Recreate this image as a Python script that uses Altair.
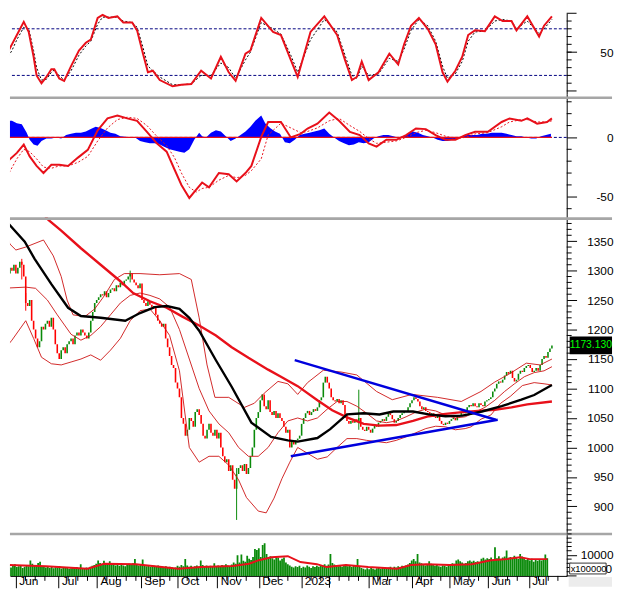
import json
import altair as alt
import pandas as pd

# ---------------- data ----------------
close = [1290, 1300, 1285, 1295, 1305, 1300, 1310, 1295, 1305, 1315,
         1310, 1290, 1245, 1240, 1250, 1215, 1200, 1185, 1170, 1180,
         1205, 1200, 1210, 1215, 1205, 1220, 1200, 1175, 1160, 1150,
         1165, 1170, 1160, 1175, 1180, 1185, 1175, 1190, 1195, 1190,
         1200, 1195, 1190, 1185, 1195, 1215, 1230, 1245, 1250, 1255,
         1260, 1258, 1265, 1255, 1262, 1268, 1270, 1265, 1275, 1272,
         1280, 1275, 1283, 1285, 1290, 1295, 1285, 1280, 1275, 1270,
         1278, 1250, 1245, 1240, 1248, 1242, 1238, 1240, 1225, 1215,
         1210, 1205, 1210, 1185, 1170, 1155, 1140, 1135, 1110, 1100,
         1085, 1050, 1040, 1020, 1030, 1050, 1045, 1035, 1060, 1065,
         1055, 1040, 1020, 1015, 1030, 1040, 1025, 1020, 1030, 1015,
         1025, 1000, 985, 975, 980, 960, 970, 945, 930, 955,
         965, 970, 960, 972, 955, 965, 985, 1000, 1030, 1050,
         1060, 1080, 1090, 1070, 1065, 1080, 1060, 1055, 1062, 1050,
         1058, 1050, 1045, 1035, 1025, 1030, 1000, 1010, 1005, 1012,
         1015, 1020, 1040, 1050, 1058, 1062, 1055, 1060, 1065, 1062,
         1068, 1080, 1085, 1110, 1120, 1110, 1100, 1085, 1080, 1078,
         1082, 1075, 1080, 1072, 1055, 1045, 1040, 1045, 1042, 1048,
         1045, 1050, 1035, 1030, 1028, 1035, 1030, 1025, 1032, 1038,
         1035, 1042, 1045, 1048, 1045, 1052, 1058, 1055, 1048, 1042,
         1045, 1050, 1055, 1058, 1062, 1060, 1068, 1075, 1080, 1085,
         1082, 1078, 1070, 1065, 1068, 1062, 1060, 1055, 1058, 1052,
         1050, 1055, 1045, 1040, 1038, 1042, 1040, 1045, 1048, 1050,
         1046, 1052, 1055, 1060, 1058, 1062, 1068, 1072, 1070, 1075,
         1070, 1068, 1075, 1072, 1070, 1078, 1080, 1082, 1085, 1095,
         1100, 1108, 1112, 1110, 1115, 1122, 1128, 1125, 1130, 1118,
         1112, 1115, 1125, 1130, 1128, 1135, 1138, 1140, 1135, 1128,
         1130, 1135, 1130, 1140, 1150, 1155, 1152, 1162, 1168, 1173.13]
open_first = 1285

wick_day = [10, 12, 65, 119, 181]
wick_lo = [1285, 1232, 1280, 877, 1030]
wick_hi = [1320, 1262, 1300, 965, 1098]

volume = [4500, 5200, 4000, 4800, 5500, 4200, 4600, 5000, 3800, 4400,
          5200, 4600, 7400, 5800, 4800, 5000, 6200, 6800, 4700, 4300,
          4000, 4500, 3800, 4200, 3600, 4100, 3900, 4700, 3500, 4000,
          3800, 4300, 3400, 3700, 3900, 3300, 4200, 3600, 5600, 3800,
          3500, 4000, 3700, 4400, 4800, 5200, 5800, 7400, 6200, 5600,
          7200, 5400, 6000, 7000, 5200, 5800, 5000, 5600, 4800, 5200,
          5000, 4600, 5400, 5800, 5200, 6000, 8000, 5400, 5000, 5600,
          7800, 5000, 4600, 5200, 4400, 5000, 4800, 4200, 5000, 4600,
          4400, 4000, 4600, 3800, 4400, 4200, 3600, 4000, 4800, 4400,
          5200, 4600, 8000, 5000, 4400, 4800, 4200, 4600, 5000, 4400,
          7400, 5200, 4600, 5000, 4400, 4800, 4200, 6000, 4600, 5000,
          4400, 5200, 4800, 5600, 5000, 4600, 5400, 6400, 5800, 9800,
          6400, 10200, 7200, 6800, 9600, 8200, 7600, 9000, 12800, 12400,
          13200, 9000, 14700, 15600, 10400, 8800, 9400, 8400, 7800, 9000,
          8600, 7400, 8200, 8800, 6400, 5600, 5000, 4400, 4000, 4600,
          4200, 4800, 3800, 4400, 4000, 5000, 4400, 3800, 4600, 4200,
          4800, 4400, 5200, 5000, 5600, 4800, 5400, 10400, 6200, 5400,
          5000, 4600, 5200, 4400, 4800, 5400, 4600, 5000, 4200, 4800,
          5200, 8000, 4600, 3800, 3400, 3000, 3600, 3200, 3800, 3400,
          3000, 3600, 4000, 3400, 3800, 4200, 3600, 4000, 4400, 3800,
          4400, 4000, 4600, 4200, 4800, 4400, 5000, 5400, 6200, 7400,
          8000, 7000, 10400, 6400, 6000, 5400, 5000, 5600, 7000, 5800,
          5200, 4800, 5400, 4600, 4400, 5000, 4800, 4400, 5200, 5600,
          6000, 5800, 7400, 7800, 7000, 6400, 5800, 6200, 7000, 7400,
          6800, 7200, 6600, 7000, 6400, 8200, 8600, 7800, 8400, 8000,
          8800, 7600, 13600, 8400, 9400, 8000, 8800, 9200, 12100, 8600,
          9000, 8400, 9600, 8800, 8000, 10400, 9200, 8400, 7600, 8000,
          7400, 8200, 6800, 7600, 7200, 8000, 7400, 7800, 10200, 8400]

vma_day = [0, 20, 41.5, 50, 66.5, 88.5, 100, 116.5, 125, 130, 136.5, 145, 151.5, 160,
           165, 175, 186.5, 201.5, 208.5, 216.5, 228.5, 240, 250, 258.5, 265, 270, 279]
vma_val = [5200, 4600, 3400, 5800, 5600, 3400, 4200, 4700, 5800, 7500, 8900, 9400, 6600, 5600,
           4200, 5200, 4200, 3400, 5200, 5600, 5200, 5600, 7500, 8100, 8900, 8000, 8000]

ma100_day = [20, 23.5, 30, 40, 50, 60, 66.5, 75, 83.5, 91.5, 100, 108.5, 116.5, 125, 130, 135,
             141.5, 150, 160, 167.5, 175, 183.5, 191.5, 200, 208.5, 216.5, 225, 233.5, 241.5,
             250, 258.5, 266.5, 279]
ma100_val = [1400, 1386, 1368, 1338, 1310, 1282, 1262, 1248, 1237, 1222, 1207, 1190, 1170, 1152,
             1142, 1132, 1120, 1104, 1080, 1063, 1051, 1040, 1037, 1038, 1045, 1053, 1057, 1060,
             1062, 1064, 1068, 1073, 1078]

ma50_day = [0, 1.5, 11.5, 16.5, 25, 33.5, 40, 50, 62.5, 70, 77.5, 83.5, 90, 95, 100, 108.5,
            116.5, 126.5, 136.5, 145, 150, 160, 166.5, 175, 183.5, 191.5, 198.5, 208.5, 216.5,
            225, 233.5, 243.5, 253.5, 263.5, 270, 279]
ma50_val = [1395, 1386, 1349, 1320, 1277, 1237, 1223, 1220, 1215, 1228, 1238, 1240, 1235, 1220,
            1198, 1148, 1103, 1042, 1018, 1012, 1010, 1016, 1031, 1056, 1058, 1056, 1061, 1061,
            1056, 1053, 1054, 1061, 1070, 1081, 1089, 1106]

bb_up_day = [0, 4, 7, 12, 21, 26, 30, 33, 36, 42, 47, 52, 57, 62, 70, 80, 90, 96, 100, 104,
             108, 115, 123, 128, 133, 140, 145, 150, 155, 163, 172, 180, 190, 198, 208, 221,
             233, 243, 250, 258, 266, 273, 279]
bb_up_val = [1385, 1345, 1335, 1340, 1352, 1325, 1290, 1250, 1225, 1222, 1235, 1258, 1285, 1295,
             1295, 1293, 1295, 1285, 1220, 1140, 1085, 1085, 1068, 1075, 1092, 1112, 1108, 1090,
             1110, 1131, 1128, 1123, 1095, 1081, 1090, 1085, 1078, 1095, 1111, 1126, 1143, 1140,
             1150]

bb_mid_day = [0, 12, 17, 23, 28, 35, 40, 45, 50, 55, 60, 65, 70, 75, 80, 85, 90, 95, 100, 105,
              110, 115, 120, 125, 130, 135, 140, 145, 150, 155, 160, 165, 170, 175, 180, 185,
              190, 195, 200, 205, 210, 215, 220, 225, 230, 235, 240, 245, 250, 255, 260, 265,
              270, 275, 279]
bb_mid_val = [1270, 1272, 1270, 1250, 1225, 1192, 1182, 1190, 1205, 1225, 1245, 1258, 1262, 1258,
              1252, 1238, 1200, 1150, 1100, 1062, 1040, 1025, 1000, 985, 985, 1000, 1025, 1045,
              1050, 1045, 1050, 1065, 1078, 1078, 1070, 1058, 1045, 1042, 1045, 1052, 1060, 1065,
              1062, 1055, 1050, 1052, 1060, 1068, 1080, 1095, 1108, 1120, 1127, 1130, 1137]

bb_lo_day = [0, 5, 12, 16, 20, 25, 30, 35, 40, 45, 50, 55, 60, 65, 70, 75, 80, 85, 90, 95,
             100, 105, 110, 115, 120, 124, 130, 134, 138, 142, 146, 150, 155, 160, 165, 170,
             175, 180, 185, 190, 195, 200, 205, 210, 215, 220, 225, 230, 235, 238, 243, 248,
             253, 258, 264, 270, 275, 279]
bb_lo_val = [1162, 1182, 1215, 1185, 1153, 1142, 1140, 1145, 1150, 1157, 1148, 1165, 1185, 1215,
             1232, 1235, 1215, 1190, 1130, 1000, 975, 985, 985, 970, 945, 915, 892, 889, 914,
             947, 975, 1000, 990, 980, 984, 1000, 1015, 1015, 1012, 1010, 1008, 1012, 1018,
             1025, 1032, 1036, 1035, 1030, 1032, 1035, 1048, 1055, 1075, 1087, 1105, 1110, 1108,
             1106]

trend_hi_day = [148.5, 250.5]
trend_hi_val = [1148, 1047]
trend_lo_day = [146.5, 251.5]
trend_lo_val = [985, 1047]

stoch_day = [0, 5, 7.5, 11, 13.5, 16, 17.5, 20, 22.5, 25, 26.5, 29, 31.5, 35, 39, 42.5, 45,
             48.5, 51, 54, 58.5, 61.5, 66, 68.5, 71.5, 74, 76.5, 80, 86.5, 91, 96, 101, 106,
             111, 115, 118.5, 123.5, 126, 131.5, 137.5, 141.5, 146.5, 150, 156.5, 163.5, 170,
             174, 177.5, 180, 182.5, 186, 191, 196.5, 201, 204, 207.5, 211.5, 216, 220, 223.5,
             226, 230, 233.5, 236.5, 240, 245, 250, 254, 258.5, 261, 266.5, 272.5, 275, 279]
stoch_k = [36, 60, 72, 89, 76, 44, 20, 10, 18, 28, 28, 16, 13, 32, 52, 62, 66, 94, 98, 94,
           96, 88, 88, 78, 48, 24, 26, 14, 6, 8, 9, 26, 16, 44, 24, 13, 48, 52, 94, 76,
           72, 40, 18, 76, 96, 72, 40, 14, 18, 38, 14, 24, 48, 34, 60, 84, 94, 80, 60, 24,
           12, 26, 44, 72, 78, 77, 96, 90, 90, 78, 96, 70, 84, 96]
stoch_d = [32, 52, 66, 82, 80, 52, 30, 14, 15, 24, 27, 20, 14, 26, 46, 58, 64, 86, 95, 95,
           95, 90, 88, 82, 56, 32, 26, 18, 8, 8, 9, 20, 20, 36, 30, 16, 40, 50, 88, 80,
           73, 46, 24, 66, 92, 76, 46, 20, 16, 32, 20, 22, 42, 38, 54, 78, 92, 84, 64, 32,
           16, 22, 38, 64, 76, 77, 90, 92, 90, 80, 90, 74, 80, 92]

macd_day = [0, 3.5, 7.5, 11, 14, 17.5, 21, 25, 29, 33.5, 38.5, 43.5, 48.5, 53.5, 58.5, 63.5,
            68.5, 73.5, 78.5, 83.5, 87.5, 91, 95, 98.5, 101.5, 105, 110, 115, 119, 123.5,
            126.5, 131.5, 135, 141.5, 146.5, 151.5, 155, 160, 166, 171, 176.5, 181.5, 186, 190,
            195, 200, 205, 210, 215, 220, 225, 230, 235, 240, 246.5, 253.5, 257.5, 263.5,
            266.5, 271.5, 276.5, 279]
macd_val = [-41, -19, -13, -6, -16, -24, -30, -23, -23, -24, -17, -10.5, 6, 16, 18.5, 16, 14,
            4.7, -5, -12, -27, -40, -51, -44, -38, -42, -30, -31, -37, -30, -24, 0.5, 13, 13,
            0, 3, 7.5, 11.6, 21, 14, 4.7, 2, -5, -7.7, -2, -2, 2, 7.5, 7, 2, -2, -2, 2, 4.7,
            4.7, 13, 16, 14, 16, 11.6, 13, 16]
signal_val = [-45, -30, -18, -10, -12, -18, -25, -26, -24, -24, -21, -16, -3, 8, 15, 17, 16,
              10, 1, -7, -17, -30, -42, -46, -43, -42, -36, -32, -34, -32, -28, -18, 2, 12,
              8, 4, 5, 8, 14, 16, 10, 5, -1, -5, -4, -3, 0, 4, 6, 4, 1, -1, 0, 3, 4, 9, 13,
              15, 15, 13, 13, 14]

hist_day = [0, 2.5, 5, 7.5, 10, 12.5, 14, 16, 18, 20, 22.5, 25, 27.5, 30, 32.5, 35, 37.5, 40,
            42.5, 45, 47.5, 50, 52.5, 55, 57.5, 60, 62.5, 65, 67.5, 70, 72.5, 75, 77.5, 80,
            82.5, 85, 87.5, 90, 92.5, 95, 97.5, 100, 101.5, 103.5, 106, 108.5, 111, 113.5,
            116, 118.5, 121, 123.5, 126, 128.5, 131.5, 133.5, 136, 138.5, 141, 143.5, 146,
            148.5, 151, 153.5, 156, 158.5, 161, 163.5, 166, 168.5, 171, 173.5, 176, 178.5,
            181, 183.5, 186, 188.5, 191, 193.5, 196, 198.5, 201, 203.5, 206, 208.5, 211,
            213.5, 216, 218.5, 221, 223.5, 226, 228.5, 231, 233.5, 236, 238.5, 241, 243.5,
            246, 248.5, 251, 253.5, 256, 258.5, 261, 263.5, 266, 268.5, 271, 273.5, 276, 278.5]
hist_val = [9, 14, 14, 12, 11, 4, -2, -6, -7, -3, -1, -1, 0, -1, 2, 3, 4, 4,
            5, 7, 9, 8, 6, 4, 3, 1, 0.5, 0, 0, -3, -4, -5, -5, -6,
            -8, -10, -11, -12, -13, -10, -2, 4, 1, 0, 4, 6, 5, 1,
            -3, -1, 2, 5, 9, 14, 18.5, 12, 8, 5, 3, -4, -5,
            -2, 2, 3, 4, 5, 6, 7.5, 3, 0, -3, -5, -6.5, -6,
            -4, -5, -4, -1, 1, 2, 2, 1, 0, 1, 3, 5, 4,
            2, 1, 0, -2, -3, -3, -2, -1, 1, 2, 2, 2, 3,
            3, 4, 4, 4, 3, 2, 1, 1, 0, -1, -1, 1, 2, 3]

month_day = [4.5, 26.5, 46.5, 69, 88, 108.5, 130, 152, 186.5, 209, 228.5, 248.5, 269.5]
month_lbl = ["Jun", "Jul", "Aug", "Sep", "Oct", "Nov", "Dec", "2023", "Mar", "Apr", "May",
             "Jun", "Jul"]
feb_day = [166.5]

# ---------------- layout / style ----------------
W = 565
H1, H2, H3, H4 = 82, 125, 320, 44
FONT = "Liberation Sans"
RED = "#e8101a"
BAND = "#cc1111"
GREEN = "#0a8a0a"
NAVY = "#000080"
BLUE = "#0000dd"

xs = alt.Scale(domain=[4, 286.5], nice=False, zero=False)
Xn = alt.X("d:Q", scale=xs, axis=None)
one = pd.DataFrame({"a": [0]})


def yaxis(values):
    return alt.Axis(orient="right", values=values, tickSize=10, labelExpr="'' + datum.value",
                    labelAlign="right", labelPadding=37, labelBaseline="middle",
                    domainColor="black", tickColor="black", labelColor="black",
                    labelFont=FONT, labelFontSize=12, title=None, grid=False,
                    labelOverlap=False, labelFlush=False)


def ldf(ds, vs):
    return pd.DataFrame({"d": list(ds), "v": list(vs)})


def ticks(vals, Y, length):
    return alt.Chart(pd.DataFrame({"v": vals})).mark_rule(color="black", clip=False).encode(
        x=alt.value(W), x2=alt.value(W + length), y=Y)


def separator(yoff):
    return alt.Chart(one).mark_rule(color="#a6a6a6", strokeWidth=2.6, clip=False).encode(
        x=alt.value(0), x2=alt.value(W + 46), y=alt.value(yoff))


# ---- stochastic ----
Ys = alt.Y("v:Q", scale=alt.Scale(domain=[-4, 100], nice=False, zero=False), axis=yaxis([50]))
stoch = alt.layer(
    alt.Chart(pd.DataFrame({"v": [20, 80]})).mark_rule(color=NAVY, strokeDash=[3, 2], strokeWidth=1).encode(y=Ys),
    alt.Chart(ldf(stoch_day, stoch_d)).mark_line(color="black", strokeDash=[2, 2], strokeWidth=1, clip=True).encode(x=Xn, y=Ys),
    alt.Chart(ldf(stoch_day, stoch_k)).mark_line(color=RED, strokeWidth=2, clip=True).encode(x=Xn, y=Ys),
    ticks(list(range(10, 100, 10)), Ys, 5),
    ticks([0, 100], Ys, 10),
).properties(width=W, height=H1)

# ---- MACD ----
Ym = alt.Y("v:Q", scale=alt.Scale(domain=[-67.2, 36.5], nice=False, zero=False), axis=yaxis([0, -50]))
hdf = ldf(hist_day, hist_val)
hdf["z"] = 0
zdf = pd.DataFrame({"d": [0], "d2": [len(close) - 1], "v": [0]})
macd = alt.layer(
    separator(3.8),
    alt.Chart(pd.DataFrame({"v": [0]})).mark_rule(color=NAVY, strokeDash=[3, 2], strokeWidth=1).encode(y=Ym),
    alt.Chart(hdf).mark_area(color="#0000ff", clip=True).encode(x=Xn, y=Ym, y2=alt.Y2("z:Q")),
    alt.Chart(zdf).mark_rule(color=RED, strokeWidth=1.2, clip=True).encode(x=Xn, x2=alt.X2("d2:Q"), y=Ym),
    alt.Chart(ldf(macd_day, signal_val)).mark_line(color=RED, strokeDash=[2, 2], strokeWidth=1, clip=True).encode(x=Xn, y=Ym),
    alt.Chart(ldf(macd_day, macd_val)).mark_line(color=RED, strokeWidth=2, clip=True).encode(x=Xn, y=Ym),
    ticks([-60, -40, -30, -20, -10, 10, 20, 30], Ym, 5),
).properties(width=W, height=H2)

# ---- price ----
p_scale = alt.Scale(domain=[855.6, 1390.6], nice=False, zero=False)
p_axis = yaxis(list(range(900, 1351, 50)))


def Yp(field):
    return alt.Y(field, scale=p_scale, axis=p_axis)


days = list(range(len(close)))
opens = [open_first] + close[:-1]
cdf = pd.DataFrame({"d": days, "o": opens, "c": close})
cdf["dir"] = ["up" if c >= o else "down" for o, c in zip(opens, close)]
wdf = pd.DataFrame({"d": wick_day, "lo": wick_lo, "hi": wick_hi})
wdf["dir"] = [cdf.loc[d, "dir"] for d in wick_day]
ccol = alt.Color("dir:N", scale=alt.Scale(domain=["up", "down"], range=[GREEN, "#ff0000"]), legend=None)

last = pd.DataFrame({"p": [close[-1]], "p1": [close[-1] + 15], "p0": [close[-1] - 15],
                     "t": ["%.3f" % close[-1]]})

price = alt.layer(
    alt.Chart(wdf).mark_rule(strokeWidth=1, clip=True).encode(x=Xn, y=Yp("lo:Q"), y2="hi:Q", color=ccol),
    alt.Chart(cdf).mark_rule(strokeWidth=1.6, clip=True).encode(x=Xn, y=Yp("o:Q"), y2="c:Q", color=ccol),
    alt.Chart(ldf(bb_up_day, bb_up_val)).mark_line(color=BAND, strokeWidth=0.9, clip=True).encode(x=Xn, y=Yp("v:Q")),
    alt.Chart(ldf(bb_mid_day, bb_mid_val)).mark_line(color=BAND, strokeWidth=0.9, clip=True).encode(x=Xn, y=Yp("v:Q")),
    alt.Chart(ldf(bb_lo_day, bb_lo_val)).mark_line(color=BAND, strokeWidth=0.9, clip=True).encode(x=Xn, y=Yp("v:Q")),
    alt.Chart(ldf(ma100_day, ma100_val)).mark_line(color=RED, strokeWidth=2.4, clip=True).encode(x=Xn, y=Yp("v:Q")),
    alt.Chart(ldf(ma50_day, ma50_val)).mark_line(color="black", strokeWidth=2.4, clip=True).encode(x=Xn, y=Yp("v:Q")),
    alt.Chart(ldf(trend_hi_day, trend_hi_val)).mark_line(color=BLUE, strokeWidth=2.4, clip=True).encode(x=Xn, y=Yp("v:Q")),
    alt.Chart(ldf(trend_lo_day, trend_lo_val)).mark_line(color=BLUE, strokeWidth=2.4, clip=True).encode(x=Xn, y=Yp("v:Q")),
    separator(1.4),
    ticks([v for v in range(860, 1390, 10) if v % 50 != 0], Yp("v:Q"), 5),
    alt.Chart(last).mark_rect(color="black", clip=False).encode(
        x=alt.value(W + 3), x2=alt.value(W + 46), y=Yp("p1:Q"), y2="p0:Q"),
    alt.Chart(last).mark_text(color="#00ff00", align="left", baseline="middle", font=FONT,
                              fontSize=10.5, clip=False).encode(
        x=alt.value(W + 3), y=Yp("p:Q"), text="t:N"),
).properties(width=W, height=H3)

# ---- volume ----
Yv = alt.Y("v:Q", scale=alt.Scale(domain=[0, 20657], nice=False, zero=False), axis=yaxis([10000]))
x_expr = "%s[indexof(%s, datum.value)]" % (json.dumps(month_lbl), json.dumps(month_day))
x_axis = alt.Axis(values=month_day, tickSize=12, labelExpr=x_expr, labelAlign="left",
                  labelBaseline="top", labelPadding=-12, labelOffset=3, labelFlush=False,
                  labelOverlap=False, domainColor="black", tickColor="black",
                  labelColor="black", labelFont=FONT, labelFontSize=12, title=None, grid=False,
                  minExtent=0)
Xv = alt.X("d:Q", scale=xs, axis=x_axis)

all_month = sorted(month_day + feb_day)
week_ticks = []
bounds = all_month + [287]
for a, b in zip(bounds[:-1], bounds[1:]):
    t = a + 5
    while t < b - 2:
        week_ticks.append(t)
        t += 5
wk = pd.DataFrame({"d": week_ticks})

vdf = pd.DataFrame({"d": days, "v": volume})
vol = alt.layer(
    alt.Chart(vdf).mark_bar(width=1.8, color=GREEN, clip=True).encode(x=Xv, y=Yv),
    alt.Chart(ldf(vma_day, vma_val)).mark_line(color=RED, strokeWidth=2, clip=True).encode(x=Xv, y=Yv),
    alt.Chart(wk).mark_rule(color="black", clip=False).encode(x=Xv, y=alt.value(H4), y2=alt.value(H4 + 5)),
    alt.Chart(pd.DataFrame({"d": feb_day})).mark_rule(color="black", clip=False).encode(
        x=Xv, y=alt.value(H4), y2=alt.value(H4 + 12)),
    separator(1.4),
    ticks([2000, 4000, 6000, 8000, 12000, 14000, 16000, 18000, 20000], Yv, 5),
    ticks([0], Yv, 10),
    alt.Chart(one).mark_rect(color="#ececec", clip=False).encode(
        x=alt.value(W + 2), x2=alt.value(W + 46), y=alt.value(H4 + 1), y2=alt.value(H4 + 11)),
    alt.Chart(one).mark_rect(fill="white", stroke="#333333", strokeWidth=1, clip=False).encode(
        x=alt.value(W + 3), x2=alt.value(W + 40), y=alt.value(H4 - 13), y2=alt.value(H4 - 2)),
    alt.Chart(pd.DataFrame({"t": ["x100000"]})).mark_text(align="left", baseline="middle", font=FONT,
                                                       fontSize=9.5, color="black", clip=False).encode(
        x=alt.value(W + 4), y=alt.value(H4 - 7), text="t:N"),
    alt.Chart(pd.DataFrame({"t": ["0"]})).mark_text(align="right", baseline="middle", font=FONT,
                                                   fontSize=12, color="black", clip=False).encode(
        x=alt.value(W + 46), y=alt.value(H4 - 7), text="t:N"),
).properties(width=W, height=H4)

chart = alt.vconcat(stoch, macd, price, vol, spacing=0, bounds="flush").properties(
    padding={"left": 0, "top": 0, "right": 0, "bottom": 0}
).configure_view(stroke=None).configure_axis(grid=False)

chart.save("out.html", embed_options={"renderer": "svg", "actions": False})
